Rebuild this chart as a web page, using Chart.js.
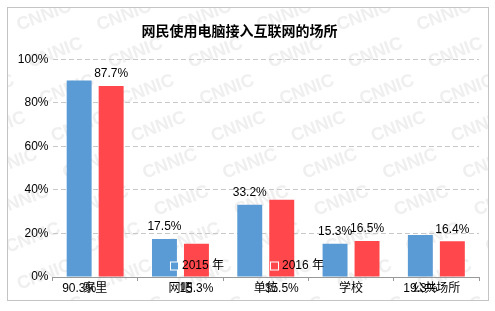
<!DOCTYPE html>
<html>
<head>
<meta charset="utf-8">
<script src="https://cdn.jsdelivr.net/npm/chart.js@4"></script>
<style>
html, body { margin: 0; padding: 0; background: #fff; }
</style>
</head>
<body>
<canvas id="chart" width="495" height="311"></canvas>
<script>
const categories = ['家里', '网吧', '单位', '学校', '公共场所']
const years = ['2015 年', '2016 年']
const values2015 = [90.3, 17.5, 33.2, 15.3, 19.3]
const values2016 = [87.7, 15.3, 35.5, 16.5, 16.4]
const yTicks = [0, 20, 40, 60, 80, 100]
// the source chart prints some of its value labels down on the axis, not over the bar
const labelOnAxis2015 = [true, false, false, false, true]
const labelOnAxis2016 = [false, true, true, false, false]

const FONT = "'Liberation Sans', 'Noto Sans CJK SC', sans-serif"
Chart.defaults.font.family = FONT
Chart.defaults.color = '#000'

// white page, CNNIC watermark and the grey frame
const backdrop = {
  id: 'backdrop',
  beforeDraw(chart) {
    const ctx = chart.ctx
    ctx.save()
    ctx.fillStyle = '#fff'
    ctx.fillRect(0, 0, chart.width, chart.height)
    ctx.beginPath()
    ctx.rect(8, 8, 480, 292)
    ctx.clip()
    ctx.fillStyle = '#efefef'
    ctx.font = "bold 18px " + FONT
    ctx.textAlign = 'center'
    ctx.textBaseline = 'middle'
    for (let r = -4; r <= 6; r++) {
      for (let c = -7; c <= 3; c++) {
        let x = 387 + 80 * c + 11.5 * r
        let y = 90 + 37 * r
        ctx.save()
        ctx.translate(x, y)
        ctx.rotate(-21 * Math.PI / 180)
        ctx.fillText('CNNIC', 0, 0)
        ctx.restore()
      }
    }
    ctx.restore()
    ctx.save()
    ctx.strokeStyle = '#c4c4c4'
    ctx.lineWidth = 1
    ctx.strokeRect(7.5, 7.5, 481, 293)
    ctx.restore()
  }
}

const valueLabels = {
  id: 'valueLabels',
  afterDatasetsDraw(chart) {
    const ctx = chart.ctx
    const onAxis = [labelOnAxis2015, labelOnAxis2016]
    const axisY = chart.scales.x.top + 4 + 7.5
    ctx.save()
    ctx.font = '12px ' + FONT
    ctx.fillStyle = '#000'
    ctx.textAlign = 'center'
    ctx.textBaseline = 'middle'
    chart.data.datasets.forEach((ds, di) => {
      chart.getDatasetMeta(di).data.forEach((bar, i) => {
        let y = onAxis[di][i] ? axisY : bar.y - 12
        ctx.fillText(ds.data[i].toFixed(1) + '%', bar.x, y)
      })
    })
    ctx.restore()
  }
}

// legend sits inside the plot, over the bars
const innerLegend = {
  id: 'innerLegend',
  afterDraw(chart) {
    const ctx = chart.ctx
    ctx.save()
    ctx.font = '12px ' + FONT
    ctx.textBaseline = 'middle'
    const stride = 100
    const items = chart.data.datasets
    const lastW = 11 + ctx.measureText(items[items.length - 1].label).width
    let x = chart.width / 2 - (stride * (items.length - 1) + lastW) / 2
    const y = 266
    items.forEach(ds => {
      ctx.fillStyle = '#fff'
      ctx.fillRect(x - 1, y - 4.5, 9, 9)
      ctx.fillStyle = ds.backgroundColor
      ctx.fillRect(x, y - 3.5, 7, 7)
      ctx.fillStyle = '#000'
      ctx.fillText(ds.label, x + 11, y)
      x += stride
    })
    ctx.restore()
  }
}

new Chart(document.getElementById('chart'), {
  type: 'bar',
  data: {
    labels: categories,
    datasets: [
      { label: years[0], data: values2015, backgroundColor: '#5B9BD5' },
      { label: years[1], data: values2016, backgroundColor: '#FF474C' }
    ]
  },
  options: {
    responsive: false,
    animation: false,
    layout: { padding: { left: 0, right: 16, top: 0, bottom: 0 } },
    datasets: { bar: { categoryPercentage: 0.75, barPercentage: 0.78 } },
    plugins: {
      legend: { display: false },
      tooltip: { enabled: false },
      title: {
        display: true,
        text: '网民使用电脑接入互联网的场所',
        color: '#000',
        font: { size: 14, weight: 'bold' },
        padding: { top: 24, bottom: 18.5 }
      }
    },
    scales: {
      x: {
        afterFit: s => { s.height = 34 },
        grid: { display: true, drawOnChartArea: false, drawTicks: true, tickLength: 4, color: '#999', offset: true },
        border: { display: true, color: '#999' },
        ticks: { font: { size: 12 }, color: '#000', padding: 0, maxRotation: 0, autoSkip: false }
      },
      y: {
        min: 0,
        max: 100,
        afterFit: s => { s.width = 52.5 },
        afterBuildTicks: s => { s.ticks = yTicks.map(v => ({ value: v })) },
        grid: {
          drawTicks: false,
          color: c => c.tick && c.tick.value === 0 ? 'rgba(0,0,0,0)' : '#c8c8c8'
        },
        border: { display: false, dash: [5, 3] },
        ticks: { font: { size: 12 }, color: '#000', padding: 4, callback: v => v + '%' }
      }
    }
  },
  plugins: [backdrop, valueLabels, innerLegend]
})
</script>
</body>
</html>
